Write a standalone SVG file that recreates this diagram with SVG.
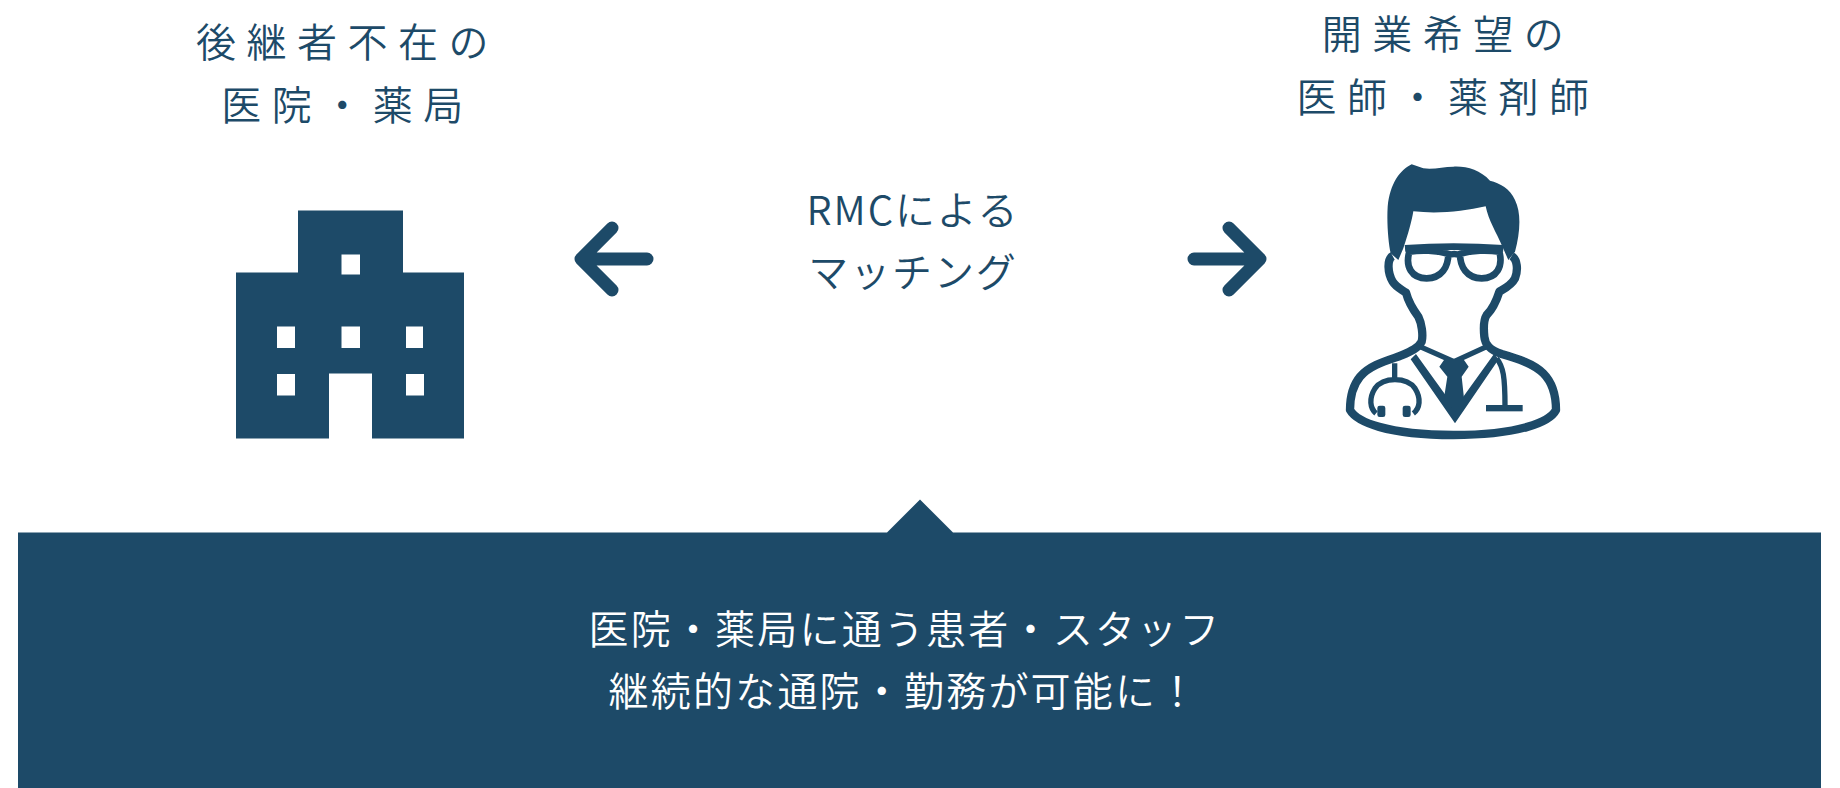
<svg xmlns="http://www.w3.org/2000/svg" width="1840" height="788" viewBox="0 0 1840 788">
<style>
.t{font-family:"Noto Sans CJK JP","Noto Sans",sans-serif;font-weight:350;text-anchor:middle}
.title{font-size:40px;letter-spacing:10.500px;fill:#1d4a68}
.mid{font-size:40px;letter-spacing:1.900px;fill:#1d4a68}
.msg{font-size:40px;letter-spacing:2.200px;fill:#fff}
.f{fill:#1d4a68}
.w{fill:#fff}
.s{fill:none;stroke:#1d4a68;stroke-linejoin:round}
.arrow{fill:none;stroke:#1d4a68;stroke-width:13;stroke-linecap:round;stroke-linejoin:round}
</style>
<rect width="1840" height="788" fill="#fff"/>
<g id="hospital-title"><text class="t title" x="347.500" y="57">後継者不在の</text><text class="t title" x="347.500" y="120">医院・薬局</text></g>
<g id="hospital" transform="translate(0 .5)">
<path class="f" d="M298 210H403V272H464V438H372V373H329V438H236V272H298Z"/>
<path class="w" d="M341.500 254h18.500v20h-18.500zM277 326h18v21.500h-18zM341.500 326h18.500v21.500h-18.500zM406 326h17v21.500h-17zM277 373.500h18v21.500h-18zM406 373.500h18v21.500h-18z"/>
</g>
<g id="doctor-title"><text class="t title" x="1448" y="49">開業希望の</text><text class="t title" x="1448" y="112">医師・薬剤師</text></g>
<g id="doctor" transform="translate(1320 150) scale(.33333)">
<path class="f" d="M275 43C240 60 210 100 203 170C200 220 205 280 212 310L235 330L250 295C265 250 275 215 280 184C350 192 430 185 497 169C505 210 530 250 545 285L565 330L585 305C600 250 605 190 585 150C570 115 540 100 510 92C480 60 440 48 400 50C370 50 340 60 310 55Z"/>
<path class="s" stroke-width="25" d="M218 318C200 328 203 370 218 395C228 412 245 418 258 428C265 455 280 480 295 500C305 520 310 555 305 575C295 595 270 605 240 618C200 632 150 645 120 680C95 710 90 750 90 780C110 815 200 855 400 855C600 855 690 815 708 780C708 740 700 700 670 670C640 640 590 625 545 612C510 600 495 585 493 560C490 530 490 510 500 495C515 480 530 450 538 425C555 415 575 405 585 385C595 360 592 328 575 318"/>
<path class="s" stroke-width="20" d="M255 295C350 288 450 288 550 295M268 305C255 350 275 385 320 385C365 385 385 350 385 312C350 300 300 300 268 305ZM420 312C420 350 440 385 485 385C530 385 550 350 538 305C505 300 455 300 420 312ZM385 316Q402 308 420 316"/>
<path class="s" stroke-width="16" d="M300 590L402 635L500 590"/>
<path class="f" d="M272 628L288 612L405 775L522 612L536 628L405 820Z"/>
<path class="f" d="M358 650L372 630H432L446 650L425 680L432 745L405 785L372 745L382 680Z"/>
<path class="s" stroke-width="16" d="M224 640V688M168 790C150 775 146 745 165 715C190 680 260 680 285 715C304 745 300 775 280 790"/>
<rect class="f" x="172" y="767" width="24" height="34" rx="7"/><rect class="f" x="248" y="767" width="24" height="34" rx="7"/>
<path class="s" stroke-width="16" d="M530 625C550 650 555 680 555 770"/>
<rect class="f" x="498" y="765" width="110" height="19"/>
</g>
<g id="matching-label"><text class="t mid" x="913" y="225">RMCによる</text><text class="t mid" x="913" y="287">マッチング</text></g>
<g id="connectors">
<path class="arrow" d="M647 259H581M612 228L581 259L612 290"/>
<path class="arrow" d="M1194 259H1260M1229 228L1260 259L1229 290"/>
</g>
<g id="message">
<path class="f" d="M18 532.500H887L920 499.500L953 532.500H1821V788H18Z"/>
<text class="t msg" x="905" y="644">医院・薬局に通う患者・スタッフ</text>
<text class="t msg" x="904" y="706">継続的な通院・勤務が可能に！</text>
</g>
</svg>
